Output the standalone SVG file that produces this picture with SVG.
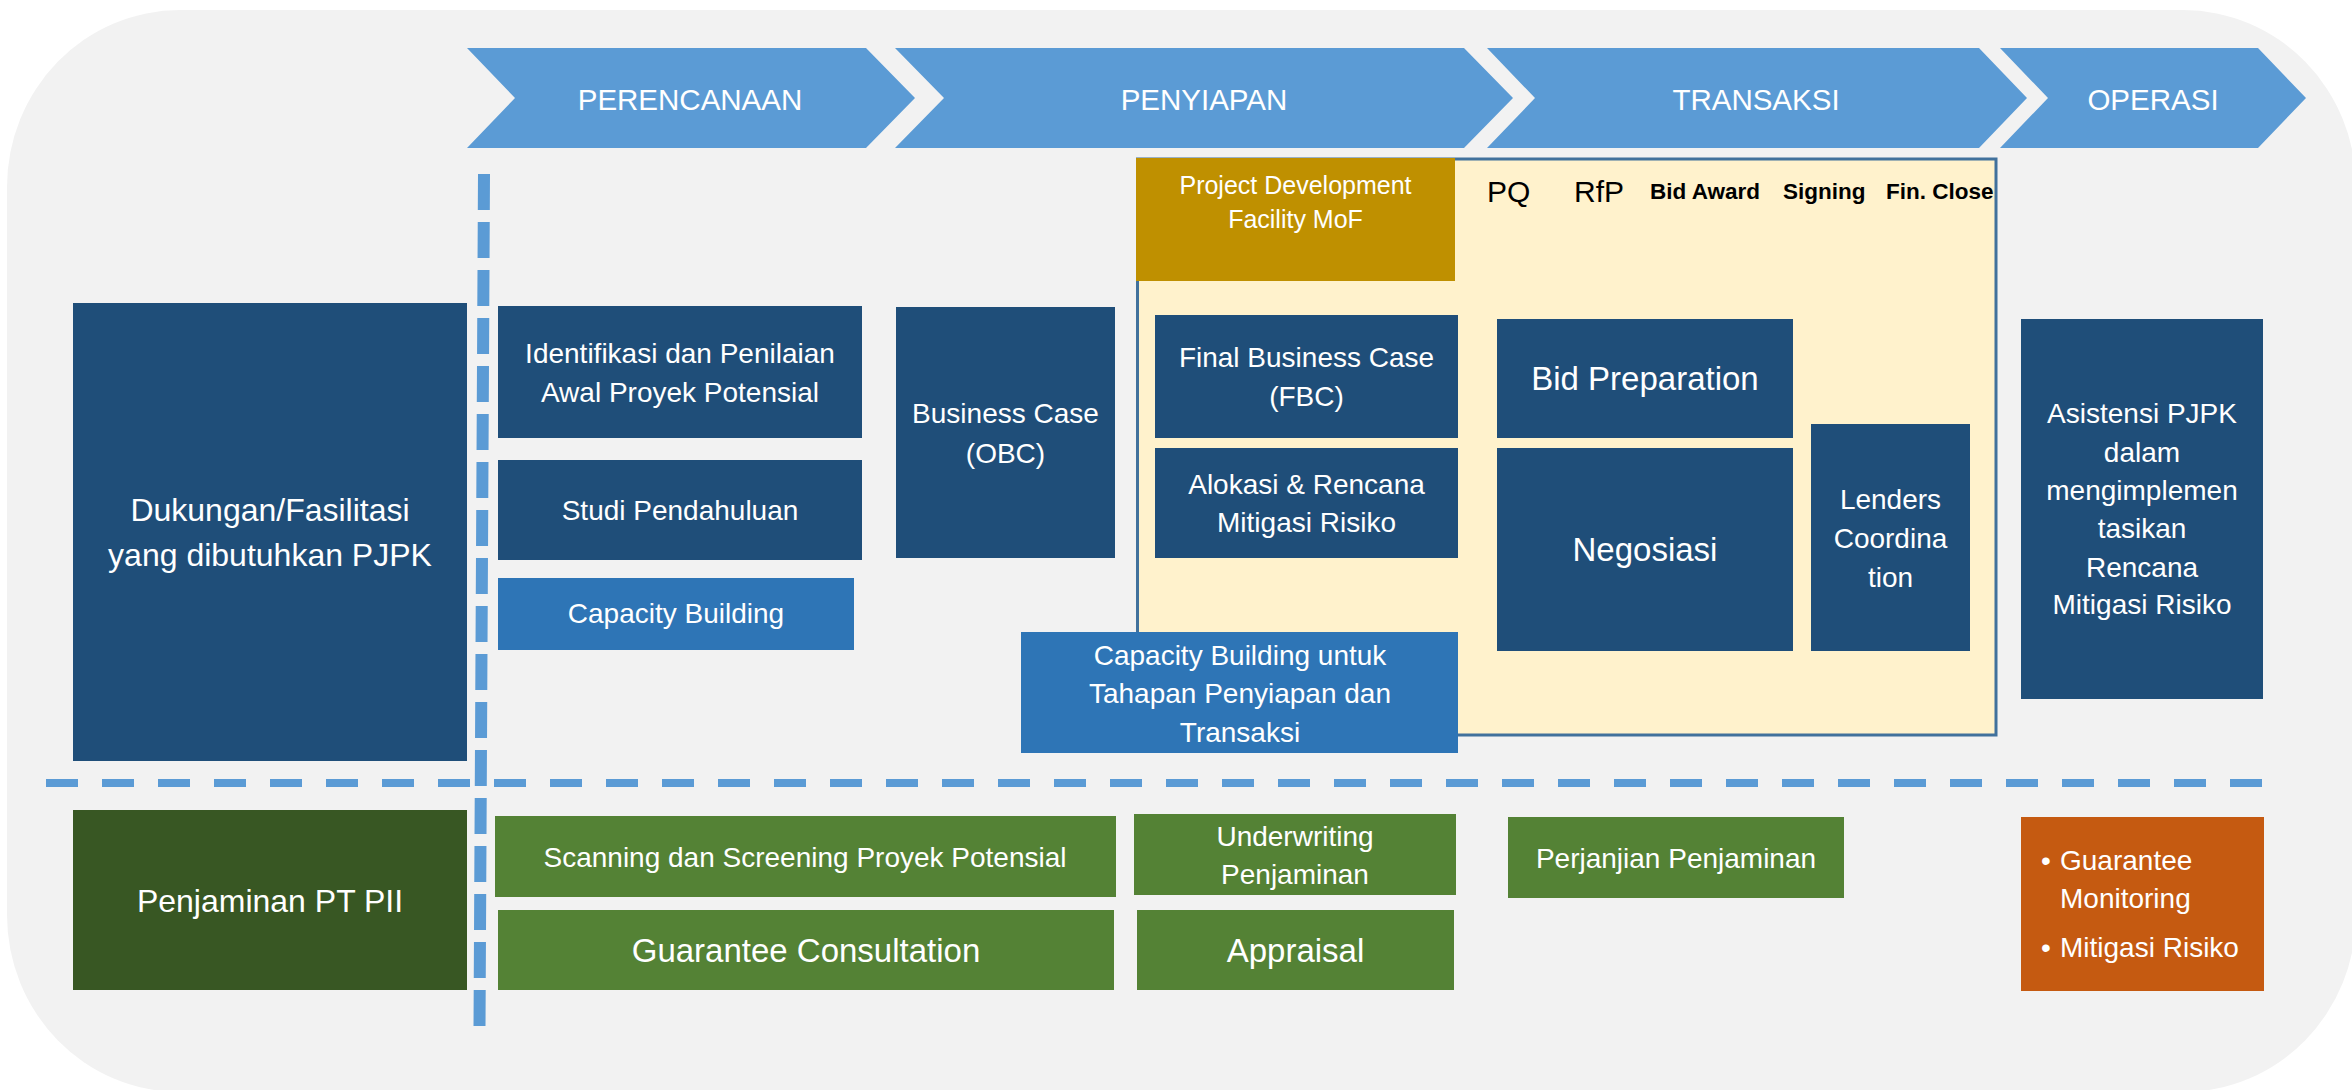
<svg xmlns="http://www.w3.org/2000/svg" width="2352" height="1090" viewBox="0 0 2352 1090">
<style>
  text { font-family: "Liberation Sans", Arial, sans-serif; }
  .w { fill: #ffffff; font-size: 28px; text-anchor: middle; }
  .wl { fill: #ffffff; font-size: 33px; text-anchor: middle; }
  .wh { fill: #ffffff; font-size: 29.5px; text-anchor: middle; }
  .wg { fill: #ffffff; font-size: 25px; text-anchor: middle; }
  .k { fill: #000000; font-size: 30px; }
  .kb { fill: #000000; font-size: 22.5px; font-weight: bold; }
  .wb { fill: #ffffff; font-size: 28px; }
  .chev { fill: #5b9bd5; }
  .dk { fill: #1f4e79; }
  .lb { fill: #2e75b6; }
  .dg { fill: #385723; }
  .gr { fill: #548235; }
  .or { fill: #c55a11; }
  .dash { stroke: #5b9bd5; fill: none; }
</style>
<rect x="7" y="10" width="2349" height="1082" rx="173" ry="177" fill="#f2f2f2"/>

<g id="phases">
  <g id="phase-perencanaan">
    <polygon class="chev" points="467,48 866,48 915,98 866,148 467,148 515,98"/>
    <text class="wh" x="690" y="110">PERENCANAAN</text>
  </g>
  <g id="phase-penyiapan">
    <polygon class="chev" points="895,48 1464,48 1513,98 1464,148 895,148 944,98"/>
    <text class="wh" x="1204" y="110">PENYIAPAN</text>
  </g>
  <g id="phase-transaksi">
    <polygon class="chev" points="1487,48 1979,48 2027,98 1979,148 1487,148 1535,98"/>
    <text class="wh" x="1756" y="110">TRANSAKSI</text>
  </g>
  <g id="phase-operasi">
    <polygon class="chev" points="2000,48 2258,48 2306,98 2258,148 2000,148 2048,98"/>
    <text class="wh" x="2153" y="110">OPERASI</text>
  </g>
</g>

<g id="pdf-area">
  <rect x="1137.5" y="159" width="858.5" height="576" fill="#fff2cc" stroke="#41719c" stroke-width="3"/>
  <g id="milestones">
    <text class="k" x="1487" y="202">PQ</text>
    <text class="k" x="1574" y="202">RfP</text>
    <text class="kb" x="1650" y="199">Bid Award</text>
    <text class="kb" x="1783" y="199">Signing</text>
    <text class="kb" x="1886" y="199">Fin. Close</text>
  </g>
</g>

<g id="dividers">
  <line class="dash" x1="484" y1="174" x2="479.5" y2="1028" stroke-width="12" stroke-dasharray="36 12"/>
  <line class="dash" x1="46" y1="783" x2="2263" y2="783" stroke-width="8" stroke-dasharray="32 24"/>
</g>

<g id="pdf-mof">
  <rect x="1136" y="158" width="319" height="123" fill="#bf9000"/>
  <text class="wg" x="1295.5" y="194">Project Development</text>
  <text class="wg" x="1295.5" y="228">Facility MoF</text>
</g>

<g id="dukungan">
  <rect class="dk" x="73" y="303" width="394" height="458"/>
  <text class="wl" style="font-size:32px" x="270" y="521">Dukungan/Fasilitasi</text>
  <text class="wl" style="font-size:32px" x="270" y="566">yang dibutuhkan PJPK</text>
</g>

<g id="identifikasi">
  <rect class="dk" x="498" y="306" width="364" height="132"/>
  <text class="w" x="680" y="363">Identifikasi dan Penilaian</text>
  <text class="w" x="680" y="402">Awal Proyek Potensial</text>
</g>

<g id="studi">
  <rect class="dk" x="498" y="460" width="364" height="100"/>
  <text class="w" x="680" y="520">Studi Pendahuluan</text>
</g>

<g id="capacity-building">
  <rect class="lb" x="498" y="578" width="356" height="72"/>
  <text class="w" x="676" y="623">Capacity Building</text>
</g>

<g id="obc">
  <rect class="dk" x="896" y="307" width="219" height="251"/>
  <text class="w" x="1005.5" y="423">Business Case</text>
  <text class="w" x="1005.5" y="463">(OBC)</text>
</g>

<g id="fbc">
  <rect class="dk" x="1155" y="315" width="303" height="123"/>
  <text class="w" x="1306.5" y="367">Final Business Case</text>
  <text class="w" x="1306.5" y="406">(FBC)</text>
</g>

<g id="alokasi">
  <rect class="dk" x="1155" y="448" width="303" height="110"/>
  <text class="w" x="1306.5" y="494">Alokasi &amp; Rencana</text>
  <text class="w" x="1306.5" y="532">Mitigasi Risiko</text>
</g>

<g id="capacity-building-2">
  <rect class="lb" x="1021" y="632" width="437" height="121"/>
  <text class="w" x="1240" y="665">Capacity Building untuk</text>
  <text class="w" x="1240" y="703">Tahapan Penyiapan dan</text>
  <text class="w" x="1240" y="742">Transaksi</text>
</g>

<g id="bid-preparation">
  <rect class="dk" x="1497" y="319" width="296" height="119"/>
  <text class="wl" x="1645" y="390">Bid Preparation</text>
</g>

<g id="negosiasi">
  <rect class="dk" x="1497" y="448" width="296" height="203"/>
  <text class="wl" x="1645" y="561">Negosiasi</text>
</g>

<g id="lenders">
  <rect class="dk" x="1811" y="424" width="159" height="227"/>
  <text class="w" x="1890.5" y="509">Lenders</text>
  <text class="w" x="1890.5" y="548">Coordina</text>
  <text class="w" x="1890.5" y="587">tion</text>
</g>

<g id="asistensi">
  <rect class="dk" x="2021" y="319" width="242" height="380"/>
  <text class="w" x="2142" y="423">Asistensi PJPK</text>
  <text class="w" x="2142" y="462">dalam</text>
  <text class="w" x="2142" y="500">mengimplemen</text>
  <text class="w" x="2142" y="538">tasikan</text>
  <text class="w" x="2142" y="577">Rencana</text>
  <text class="w" x="2142" y="614">Mitigasi Risiko</text>
</g>

<g id="penjaminan">
  <rect class="dg" x="73" y="810" width="394" height="180"/>
  <text class="wl" style="font-size:32px" x="270" y="912">Penjaminan PT PII</text>
</g>

<g id="scanning">
  <rect class="gr" x="495" y="816" width="621" height="81"/>
  <text class="w" x="805" y="867">Scanning dan Screening Proyek Potensial</text>
</g>

<g id="guarantee-consultation">
  <rect class="gr" x="498" y="910" width="616" height="80"/>
  <text class="wl" x="806" y="962">Guarantee Consultation</text>
</g>

<g id="underwriting">
  <rect class="gr" x="1134" y="814" width="322" height="81"/>
  <text class="w" x="1295" y="846">Underwriting</text>
  <text class="w" x="1295" y="884">Penjaminan</text>
</g>

<g id="appraisal">
  <rect class="gr" x="1137" y="910" width="317" height="80"/>
  <text class="wl" x="1295.5" y="962">Appraisal</text>
</g>

<g id="perjanjian">
  <rect class="gr" x="1508" y="817" width="336" height="81"/>
  <text class="w" x="1676" y="868">Perjanjian Penjaminan</text>
</g>

<g id="monitoring">
  <rect class="or" x="2021" y="817" width="243" height="174"/>
  <text class="wb" x="2041" y="870">•</text>
  <text class="wb" x="2060" y="870">Guarantee</text>
  <text class="wb" x="2060" y="908">Monitoring</text>
  <text class="wb" x="2041" y="957">•</text>
  <text class="wb" x="2060" y="957">Mitigasi Risiko</text>
</g>
</svg>
